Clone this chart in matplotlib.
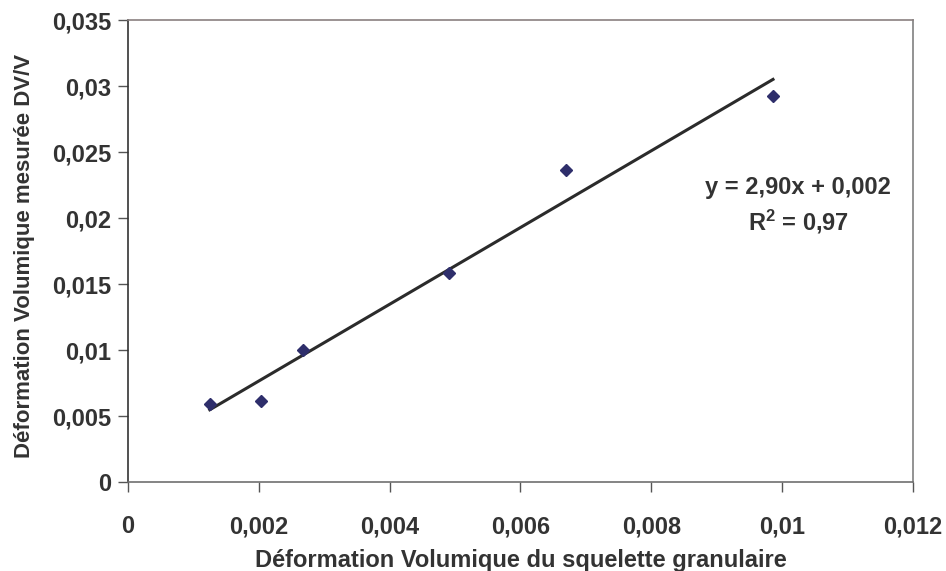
import matplotlib
matplotlib.use("Agg")
import matplotlib.pyplot as plt
import numpy as np

# Data
x_vals = [0.00125, 0.00203, 0.00267, 0.00490, 0.00670, 0.00986]
y_vals = [0.00592, 0.00614, 0.01000, 0.01583, 0.02364, 0.02927]
x_ticks = [0, 0.002, 0.004, 0.006, 0.008, 0.010, 0.012]
x_tick_labels = ["0", "0,002", "0,004", "0,006", "0,008", "0,01", "0,012"]
y_ticks = [0, 0.005, 0.010, 0.015, 0.020, 0.025, 0.030, 0.035]
y_tick_labels = ["0", "0,005", "0,01", "0,015", "0,02", "0,025", "0,03", "0,035"]
eq_text = "y = 2,90x + 0,002"
r2_text = "R$^{2}$ = 0,97"

plt.rcParams['font.family'] = ['Liberation Sans', 'DejaVu Sans']
plt.rcParams['mathtext.fontset'] = 'custom'
plt.rcParams['mathtext.rm'] = 'Liberation Sans:bold'
plt.rcParams['mathtext.default'] = 'rm'
txt = '#333333'
FS = 17

fig = plt.figure(figsize=(9.46, 5.71), dpi=100)
ax = fig.add_axes([0.1353, 0.1559, 0.8298, 0.8082])

# trend line (least squares fit)
slope, intercept = np.polyfit(x_vals, y_vals, 1)
xl = np.array([min(x_vals), max(x_vals)])
ax.plot(xl, slope * xl + intercept, color='#2b2b2b', lw=2.2, zorder=2)
ax.plot(x_vals, y_vals, linestyle='none', marker='D', markersize=6.5,
        color='#2e2e6b', zorder=3)

ax.set_xlim(0, 0.012)
ax.set_ylim(0, 0.035)
ax.set_xticks(x_ticks)
ax.set_xticklabels(x_tick_labels)
ax.set_yticks(y_ticks)
ax.set_yticklabels(y_tick_labels)
ax.tick_params(direction='out', length=7, width=1, color='#555555',
               labelsize=FS, labelcolor=txt, pad=5)
ax.tick_params(axis='x', pad=17)
for lab in ax.get_xticklabels() + ax.get_yticklabels():
    lab.set_fontweight('bold')

ax.spines['left'].set_color('#333333')
ax.spines['bottom'].set_color('#707070')
ax.spines['top'].set_color('#8a8080')
ax.spines['right'].set_color('#808080')
for s in ax.spines.values():
    s.set_linewidth(1.2)

ax.set_xlabel("Déformation Volumique du squelette granulaire", fontsize=FS,
              fontweight='bold', color=txt, labelpad=8)
ax.set_ylabel("Déformation Volumique mesurée DV/V", fontsize=16,
              fontweight='bold', color=txt, labelpad=12)
ax.yaxis.label.set_y(0.489)

ax.text(0.010245, 0.0223, eq_text, fontsize=FS, fontweight='bold', color=txt,
        ha='center', va='center')
ax.text(0.010245, 0.0197, r2_text, fontsize=FS, fontweight='bold', color=txt,
        ha='center', va='center')

fig.savefig("out.png", dpi=100, facecolor='white')
